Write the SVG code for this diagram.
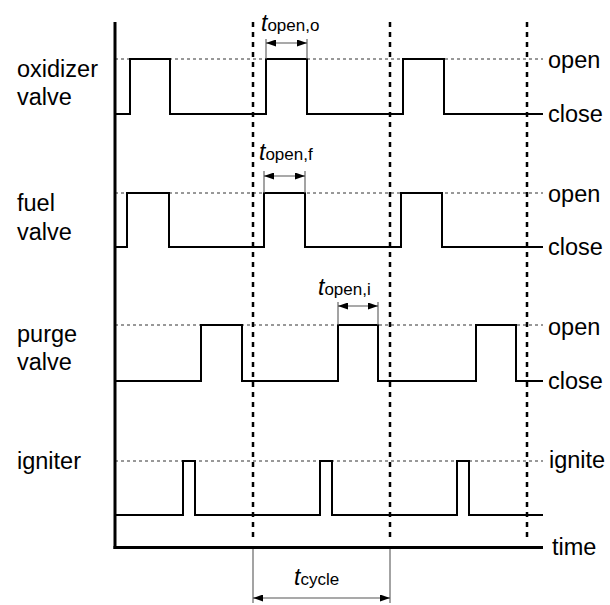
<svg xmlns="http://www.w3.org/2000/svg" width="610" height="605" viewBox="0 0 610 605">
<defs>
<marker id="ah" viewBox="0 0 10 7" refX="10" refY="3.5" markerWidth="10" markerHeight="7" markerUnits="userSpaceOnUse" orient="auto-start-reverse">
<path d="M0,0 L10,3.5 L0,7 z" fill="#000"/>
</marker>
<style>
.lbl{font-family:"Liberation Sans",Arial,sans-serif;font-size:23.5px;fill:#000}
.ti{font-family:"Liberation Sans",Arial,sans-serif;font-size:23px;font-style:italic;fill:#000}
.sub{font-family:"Liberation Sans",Arial,sans-serif;font-size:17px;font-style:normal;fill:#000}
.sig{fill:none;stroke:#000;stroke-width:2;stroke-linejoin:miter}
.ref{fill:none;stroke:#333;stroke-width:1;stroke-dasharray:3,3}
.cyc{fill:none;stroke:#000;stroke-width:2.5;stroke-dasharray:5,5}
.axis{fill:none;stroke:#000;stroke-width:3}
.dim{fill:none;stroke:#666;stroke-width:1.2}
.dimarrow{fill:none;stroke:#555;stroke-width:1.2;marker-start:url(#ah);marker-end:url(#ah)}
</style>
</defs>
<rect width="610" height="605" fill="#fff"/>

<g id="reference-lines">
<line class="ref" x1="115" y1="59" x2="543" y2="59"/>
<line class="ref" x1="115" y1="193" x2="543" y2="193"/>
<line class="ref" x1="115" y1="325" x2="543" y2="325"/>
<line class="ref" x1="115" y1="461" x2="543" y2="461"/>
</g>

<g id="cycle-markers">
<line class="cyc" x1="253" y1="22" x2="253" y2="542"/>
<line class="cyc" x1="390" y1="22" x2="390" y2="542"/>
<line class="cyc" x1="527" y1="22" x2="527" y2="542"/>
</g>

<g id="axes">
<line class="axis" x1="115" y1="22" x2="115" y2="549"/>
<line class="axis" x1="113.5" y1="547.5" x2="543" y2="547.5"/>
</g>

<g id="oxidizer-valve">
<text class="lbl" x="17" y="77">oxidizer</text>
<text class="lbl" x="17" y="105">valve</text>
<polyline class="sig" points="116,114 130,114 130,59 170,59 170,114 266,114 266,59 307,59 307,114 403,114 403,59 444,59 444,114 543,114"/>
<text class="lbl" x="548" y="68">open</text>
<text class="lbl" x="548" y="122">close</text>
</g>

<g id="fuel-valve">
<text class="lbl" x="17" y="211">fuel</text>
<text class="lbl" x="17" y="240">valve</text>
<polyline class="sig" points="116,247 127,247 127,193 169,193 169,247 264,247 264,193 305,193 305,247 401,247 401,193 442,193 442,247 543,247"/>
<text class="lbl" x="548" y="202">open</text>
<text class="lbl" x="548" y="255">close</text>
</g>

<g id="purge-valve">
<text class="lbl" x="17" y="342">purge</text>
<text class="lbl" x="17" y="370">valve</text>
<polyline class="sig" points="116,381 201,381 201,325 242,325 242,381 338,381 338,325 378,325 378,381 476,381 476,325 516,325 516,381 543,381"/>
<text class="lbl" x="548" y="335">open</text>
<text class="lbl" x="548" y="389">close</text>
</g>

<g id="igniter">
<text class="lbl" x="17" y="469">igniter</text>
<polyline class="sig" points="116,515 183,515 183,461 195,461 195,515 320,515 320,461 332,461 332,515 457,515 457,461 469,461 469,515 543,515"/>
<text class="lbl" x="549" y="468">ignite</text>
</g>

<g id="time-label">
<text class="lbl" x="552" y="555">time</text>
</g>

<g id="connectors">
<line class="dim" x1="266" y1="39" x2="266" y2="59"/>
<line class="dim" x1="307" y1="39" x2="307" y2="59"/>
<line class="dimarrow" x1="266" y1="43" x2="307" y2="43"/>

<line class="dim" x1="264" y1="171" x2="264" y2="193"/>
<line class="dim" x1="305" y1="171" x2="305" y2="193"/>
<line class="dimarrow" x1="264" y1="176" x2="305" y2="176"/>

<line class="dim" x1="338" y1="302" x2="338" y2="325"/>
<line class="dim" x1="378" y1="302" x2="378" y2="325"/>
<line class="dimarrow" x1="338" y1="306" x2="378" y2="306"/>

<line class="dim" x1="253" y1="549" x2="253" y2="603"/>
<line class="dim" x1="390" y1="549" x2="390" y2="603"/>
<line class="dimarrow" x1="253" y1="598" x2="390" y2="598"/>
</g>

<g id="dimension-labels">
<text class="ti" x="261" y="31">t<tspan class="sub">open,o</tspan></text>
<text class="ti" x="259" y="160">t<tspan class="sub">open,f</tspan></text>
<text class="ti" x="318" y="295">t<tspan class="sub">open,i</tspan></text>
<text class="ti" x="294" y="585">t<tspan class="sub">cycle</tspan></text>
</g>
</svg>
